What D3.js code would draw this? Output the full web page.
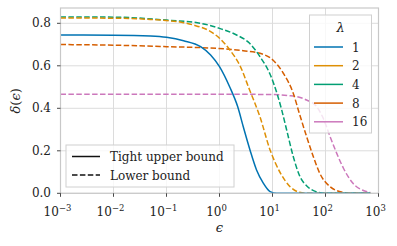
<!DOCTYPE html>
<html>
<head>
<meta charset="utf-8">
<script src="https://cdn.jsdelivr.net/npm/d3@7"></script>
<style>
  body { margin: 0; background: #fff; }
  svg text { font-family: "DejaVu Serif", "Liberation Serif", serif; fill: #222; }
  .grid line { stroke: #dcdcdc; stroke-width: 1; }
</style>
</head>
<body>
<div id="chart"></div>
<script>
// values
var lambdas = [1, 2, 4, 8, 16];
var colors  = ["#0173b2", "#de8f05", "#029e73", "#d55e00", "#cc78bc"];

var eps_upper_1   = [0.001, 0.01, 0.05, 0.1, 0.21, 0.44, 0.68, 1, 1.56, 2.2, 2.81, 3.76, 5.0, 6.7, 9, 12, 700];
var delta_upper_1 = [0.745, 0.744, 0.740, 0.734, 0.718, 0.69, 0.651, 0.596, 0.50, 0.408, 0.313, 0.204, 0.11, 0.048, 0.008, 0, 0];

var eps_lower_2   = [0.001, 0.01, 0.05, 0.21, 0.32, 0.68, 1, 1.56, 2.44, 3.7, 5.8, 9, 14.2, 21.5, 32, 45, 700];
var delta_lower_2 = [0.825, 0.824, 0.818, 0.803, 0.792, 0.761, 0.73, 0.675, 0.60, 0.486, 0.36, 0.204, 0.094, 0.031, 0.005, 0, 0];

var eps_lower_4   = [0.001, 0.01, 0.1, 0.44, 1, 2.1, 3.7, 5.8, 9, 12.5, 15, 18.5, 24.7, 32, 46, 66, 100, 700];
var delta_lower_4 = [0.83, 0.829, 0.815, 0.80, 0.776, 0.745, 0.706, 0.643, 0.56, 0.46, 0.39, 0.298, 0.172, 0.086, 0.031, 0.008, 0, 0];

var eps_lower_8   = [0.001, 0.01, 0.1, 0.89, 2.8, 5.8, 10.4, 16, 24.7, 32, 44, 59, 78, 122, 218, 300, 700];
var delta_lower_8 = [0.70, 0.697, 0.69, 0.682, 0.671, 0.659, 0.625, 0.565, 0.47, 0.377, 0.267, 0.172, 0.094, 0.031, 0.004, 0, 0];

var eps_lower_16   = [0.001, 1, 10, 20, 32, 44, 67, 88, 122, 163, 218, 330, 530, 700];
var delta_lower_16 = [0.466, 0.466, 0.465, 0.46, 0.452, 0.439, 0.41, 0.36, 0.267, 0.188, 0.118, 0.047, 0.012, 0.004];

var x_ticks = [-3, -2, -1, 0, 1, 2, 3];
var y_ticks = [0, 0.2, 0.4, 0.6, 0.8];

var width = 397, height = 246;
var plot_left = 60.5, plot_right = 378.5, plot_top = 8, plot_bottom = 193.3;

var svg = d3.select("#chart").append("svg")
  .attr("width", width)
  .attr("height", height);

var x = d3.scaleLog().domain([1e-3, 1e3]).range([plot_left, plot_right]);
var y = d3.scaleLinear().domain([0, 0.872]).range([plot_bottom, plot_top]);

// grid
var grid = svg.append("g").attr("class", "grid");
grid.selectAll(".gx").data(x_ticks).enter().append("line")
  .attr("x1", function (d) { return x(Math.pow(10, d)); })
  .attr("x2", function (d) { return x(Math.pow(10, d)); })
  .attr("y1", plot_top).attr("y2", plot_bottom);
grid.selectAll(".gy").data(y_ticks).enter().append("line")
  .attr("x1", plot_left).attr("x2", plot_right)
  .attr("y1", function (d) { return y(d); })
  .attr("y2", function (d) { return y(d); });

// curves
var line = d3.line()
  .curve(d3.curveMonotoneX)
  .x(function (d) { return x(d[0]); })
  .y(function (d) { return y(d[1]); });

var plot = svg.append("g");
function draw_curve (eps, delta, color, dashed) {
  plot.append("path")
    .datum(d3.zip(eps, delta))
    .attr("d", line)
    .attr("fill", "none")
    .attr("stroke", color)
    .attr("stroke-width", 1.5)
    .attr("stroke-dasharray", dashed ? "5.5,2.4" : null);
}
draw_curve(eps_lower_16, delta_lower_16, colors[4], true);
draw_curve(eps_lower_8, delta_lower_8, colors[3], true);
draw_curve(eps_lower_4, delta_lower_4, colors[2], true);
draw_curve(eps_lower_2, delta_lower_2, colors[1], true);
draw_curve(eps_upper_1, delta_upper_1, colors[0], false);

// frame
svg.append("rect")
  .attr("x", plot_left).attr("y", plot_top)
  .attr("width", plot_right - plot_left).attr("height", plot_bottom - plot_top)
  .attr("fill", "none").attr("stroke", "#c8c8c8").attr("stroke-width", 1.2);

// x axis
var xa = svg.append("g");
xa.selectAll("line").data(x_ticks).enter().append("line")
  .attr("x1", function (d) { return x(Math.pow(10, d)); })
  .attr("x2", function (d) { return x(Math.pow(10, d)); })
  .attr("y1", plot_bottom).attr("y2", plot_bottom + 3.5)
  .attr("stroke", "#333").attr("stroke-width", 0.9);
var xl = xa.selectAll("text").data(x_ticks).enter().append("text")
  .attr("x", function (d) { return x(Math.pow(10, d)) - 3; })
  .attr("y", 216)
  .attr("text-anchor", "middle")
  .attr("font-size", 12);
xl.append("tspan").text("10");
xl.append("tspan").attr("dy", -5).attr("font-size", 8.5).text(function (d) { return d < 0 ? "\u2212" + (-d) : d; });

// y axis
var ya = svg.append("g");
ya.selectAll("line").data(y_ticks).enter().append("line")
  .attr("x1", plot_left - 3.5).attr("x2", plot_left)
  .attr("y1", function (d) { return y(d); })
  .attr("y2", function (d) { return y(d); })
  .attr("stroke", "#333").attr("stroke-width", 0.9);
ya.selectAll("text").data(y_ticks).enter().append("text")
  .attr("x", 51)
  .attr("y", function (d) { return y(d) + 4; })
  .attr("text-anchor", "end")
  .attr("font-size", 12)
  .text(function (d) { return d.toFixed(1); });

// axis labels
svg.append("text")
  .attr("x", x(1)).attr("y", 232)
  .attr("text-anchor", "middle")
  .attr("font-size", 13).attr("font-style", "italic")
  .text("\u03f5");
svg.append("text")
  .attr("transform", "translate(20," + y(0.435) + ") rotate(-90)")
  .attr("text-anchor", "middle")
  .attr("font-size", 13)
  .html("<tspan font-style='italic'>\u03b4</tspan>(<tspan font-style='italic'>\u03f5</tspan>)");

// lambda legend
var lg = svg.append("g");
lg.append("rect")
  .attr("x", 309.5).attr("y", 15).attr("width", 62).attr("height", 118)
  .attr("fill", "#fff").attr("fill-opacity", 0.8)
  .attr("stroke", "#d0d0d0").attr("stroke-width", 1);
lg.append("text")
  .attr("x", 340.5).attr("y", 32)
  .attr("text-anchor", "middle")
  .attr("font-size", 13).attr("font-style", "italic")
  .text("\u03bb");
lambdas.forEach(function (l, i) {
  var yy = 47 + i * 18.7;
  lg.append("line")
    .attr("x1", 314).attr("x2", 343)
    .attr("y1", yy).attr("y2", yy)
    .attr("stroke", colors[i]).attr("stroke-width", 1.5);
  lg.append("text")
    .attr("x", 352).attr("y", yy + 4.5)
    .attr("font-size", 12)
    .text(l);
});

// style legend
var sl = svg.append("g");
sl.append("rect")
  .attr("x", 66).attr("y", 145).attr("width", 168).attr("height", 42)
  .attr("fill", "#fff").attr("fill-opacity", 0.8)
  .attr("stroke", "#d0d0d0").attr("stroke-width", 1);
[["Tight upper bound", null], ["Lower bound", "5.5,2.4"]].forEach(function (e, i) {
  var yy = 156.5 + i * 18.5;
  sl.append("line")
    .attr("x1", 72).attr("x2", 100)
    .attr("y1", yy).attr("y2", yy)
    .attr("stroke", "#111").attr("stroke-width", 1.5)
    .attr("stroke-dasharray", e[1]);
  sl.append("text")
    .attr("x", 110).attr("y", yy + 4.5)
    .attr("font-size", 12)
    .text(e[0]);
});
</script>
</body>
</html>
